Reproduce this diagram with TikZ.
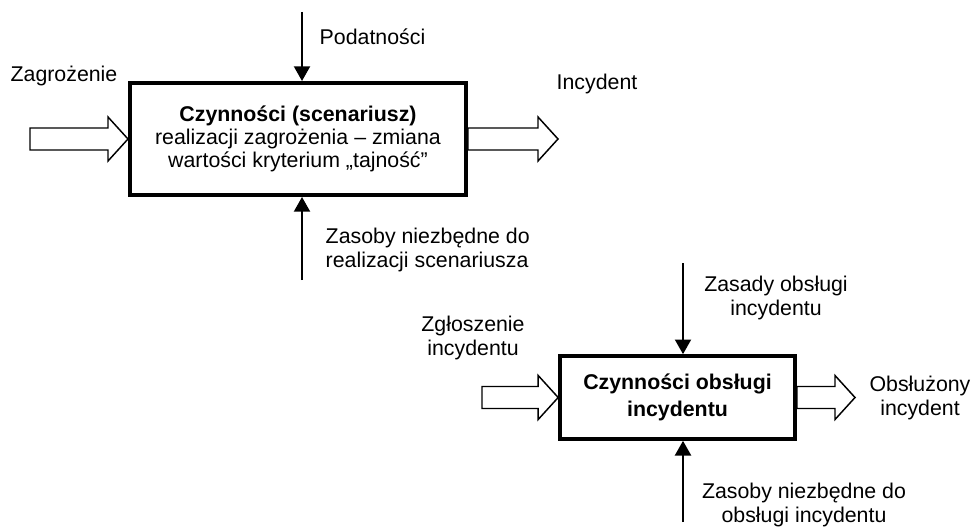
\documentclass[tikz,border=0pt]{standalone}
\usepackage{fontspec}
\setmainfont{Liberation Sans}
\usetikzlibrary{arrows.meta,calc}

\newcommand\fatarrow[2]{\draw[line width=1.1pt,line join=miter] ($(#1)+(0,-11)$) -- ($(#2)+(-20,-11)$) -- ($(#2)+(-20,-22)$) -- (#2) -- ($(#2)+(-20,22)$) -- ($(#2)+(-20,11)$) -- ($(#1)+(0,11)$) -- cycle;}

\begin{document}
\begin{tikzpicture}[x=0.75pt,y=-0.75pt,font=\fontsize{16}{18.5}\selectfont]
\useasboundingbox (0,0) rectangle (973,527);
\node[draw,line width=3pt,minimum width=252pt,minimum height=84pt,inner sep=0pt,align=center,font=\fontsize{16}{17.5}\selectfont] (box1) at (298,139) {\textbf{Czynności (scenariusz)}\\realizacji zagrożenia – zmiana\\wartości kryterium „tajność”};
\node (zagr) at (64,76) {Zagrożenie};
\node[anchor=west] (podat) at (315,37) {Podatności};
\node (incyd) at (597,84) {Incydent};
\node[anchor=west,align=left] (zasoby1) at (321,250) {Zasoby niezbędne do\\realizacji scenariusza};
\coordinate (zin) at (30,139);
\coordinate (incout) at (558,139);
\coordinate (podin) at (302,12);
\coordinate (zasin) at (302,280);
\fatarrow{zin}{box1.west}
\fatarrow{box1.east}{incout}
\draw[-{Triangle[length=11pt,width=12pt]},line width=1.5pt] (podin) -- (podin |- box1.north);
\draw[-{Triangle[length=11pt,width=12pt]},line width=1.5pt] (zasin) -- (zasin |- box1.south);

\node[draw,line width=3pt,minimum width=176pt,minimum height=62pt,inner sep=0pt,align=center] (box2) at (677.5,397.5) {\textbf{Czynności obsługi}\\[1.5pt]\textbf{incydentu}};
\node[align=center] (zglo) at (473,338) {Zgłoszenie\\incydentu};
\node[align=center] (zasady) at (776,298) {Zasady obsługi\\incydentu};
\node[align=center] (obsl) at (920,398) {Obsłużony\\incydent};
\node[align=center] (zasoby2) at (804,505) {Zasoby niezbędne do\\obsługi incydentu};
\coordinate (zgin) at (482,397.5);
\coordinate (obout) at (855,397.5);
\coordinate (zasadin) at (683,263);
\coordinate (zas2in) at (683,522);
\fatarrow{zgin}{box2.west}
\fatarrow{box2.east}{obout}
\draw[-{Triangle[length=11pt,width=12pt]},line width=1.5pt] (zasadin) -- (zasadin |- box2.north);
\draw[-{Triangle[length=11pt,width=12pt]},line width=1.5pt] (zas2in) -- (zas2in |- box2.south);
\end{tikzpicture}
\end{document}
